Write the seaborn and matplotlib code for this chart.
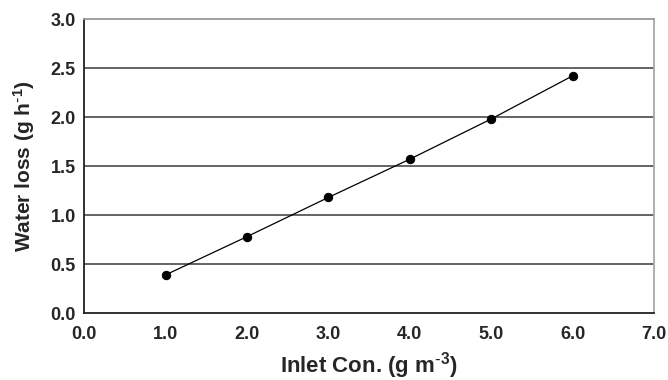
import matplotlib
matplotlib.use("Agg")
import matplotlib.pyplot as plt
import seaborn as sns
import pandas as pd

# Inlet concentration (g m-3) vs. measured water loss (g h-1)
inlet_con = [1.0, 2.0, 3.0, 4.0, 5.0, 6.0]
water_loss = [0.39, 0.78, 1.18, 1.57, 1.98, 2.42]
x_ticks = [0.0, 1.0, 2.0, 3.0, 4.0, 5.0, 6.0, 7.0]
y_ticks = [0.0, 0.5, 1.0, 1.5, 2.0, 2.5, 3.0]

sns.set_theme(style="white")
plt.rcParams["font.family"] = ["Liberation Sans", "DejaVu Sans"]
plt.rcParams["mathtext.default"] = "regular"

df = pd.DataFrame({"inlet": inlet_con, "loss": water_loss})

fig = plt.figure(figsize=(6.68, 3.80), dpi=100)
ax = fig.add_axes([0.126, 0.176, 0.853, 0.774])

for yv in y_ticks[1:-1]:
    ax.axhline(yv, color="#3a3a3a", lw=1.1, zorder=1)

sns.lineplot(data=df, x="inlet", y="loss", color="black", lw=0.9,
             marker="o", markersize=6, markeredgecolor="black",
             markerfacecolor="black", ax=ax, zorder=3)

ax.set_xlim(0, 7)
ax.set_ylim(0, 3)
ax.set_xticks(x_ticks)
ax.set_yticks(y_ticks)
ax.set_xticklabels([f"{v:.1f}" for v in x_ticks], fontsize=13, fontweight="bold")
ax.set_yticklabels([f"{v:.1f}" for v in y_ticks], fontsize=13, fontweight="bold")
ax.tick_params(axis="x", direction="in", length=3, width=1, color="#333333", pad=9)
ax.tick_params(axis="y", direction="in", length=0, pad=6)

ax.set_xlabel(r"Inlet Con. (g m$^{\text{-}3}$)", fontsize=16, fontweight="bold")
ax.set_ylabel(r"Water loss (g h$^{\text{-}1}$)", fontsize=15, fontweight="bold")
ax.xaxis.set_label_coords(0.5, -0.125)
ax.yaxis.set_label_coords(-0.082, 0.5)

for side in ["left", "bottom"]:
    ax.spines[side].set_color("#222222")
    ax.spines[side].set_linewidth(1.3)
ax.spines["top"].set_color("#9a9a9a")
ax.spines["top"].set_linewidth(1.3)
ax.spines["right"].set_color("#a8a8a8")
ax.spines["right"].set_linewidth(1.3)

fig.savefig("out.png", dpi=100)
